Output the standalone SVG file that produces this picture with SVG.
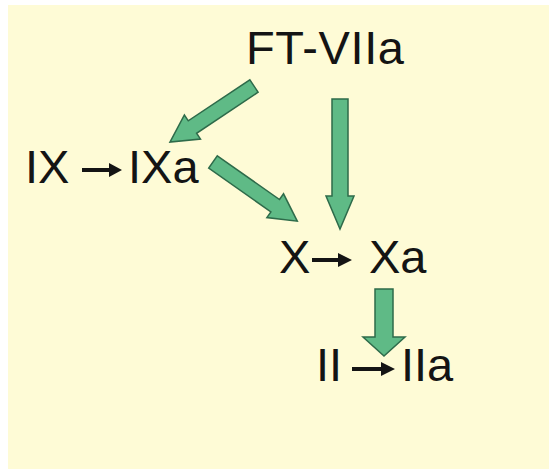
<svg xmlns="http://www.w3.org/2000/svg" width="549" height="470" viewBox="0 0 549 470">
<style>
.lbl{font-family:"Liberation Sans",Arial,sans-serif;font-size:47px;fill:#141414}
.g{fill:#5fba86;stroke:#2e6b4a;stroke-width:1.5;stroke-linejoin:miter}
.b{fill:#141414}
</style>
<rect width="549" height="470" fill="#ffffff"/>
<rect x="8" y="5" width="541" height="464" fill="#fefbd6"/>
<g id="connectors">
<path class="g" transform="translate(254,86) rotate(146.31)" d="M0,-7.5 L74,-7.5 L74,-14.5 L101,0 L74,14.5 L74,7.5 L0,7.5 Z"/>
<path class="g" transform="translate(213,162) rotate(35.08)" d="M0,-7.5 L76,-7.5 L76,-14.5 L103,0 L76,14.5 L76,7.5 L0,7.5 Z"/>
<path class="g" d="M332,99 L348,99 L348,196 L354,196 L340,229 L326,196 L332,196 Z"/>
<path class="g" d="M375,289 L393,289 L393,337 L405,337 L384,356 L363,337 L375,337 Z"/>
</g>
<g id="node-ft">
<text class="lbl" x="246" y="64" font-size="41" textLength="158">FT-VIIa</text>
</g>
<g id="node-ix">
<text class="lbl" x="25" y="183">IX</text>
<path class="b" d="M82,168 L109,168 L109,163 L122,170 L109,177 L109,172 L82,172 Z"/>
<text class="lbl" x="128" y="183">IXa</text>
</g>
<g id="node-x">
<text class="lbl" x="279" y="273">X</text>
<path class="b" d="M312,258 L338,258 L338,253 L352,260 L338,267 L338,262 L312,262 Z"/>
<text class="lbl" x="369" y="273">Xa</text>
</g>
<g id="node-ii">
<text class="lbl" x="316" y="381">II</text>
<path class="b" d="M352,367 L381,367 L381,362 L395,369 L381,376 L381,371 L352,371 Z"/>
<text class="lbl" x="401" y="381">IIa</text>
</g>
</svg>
